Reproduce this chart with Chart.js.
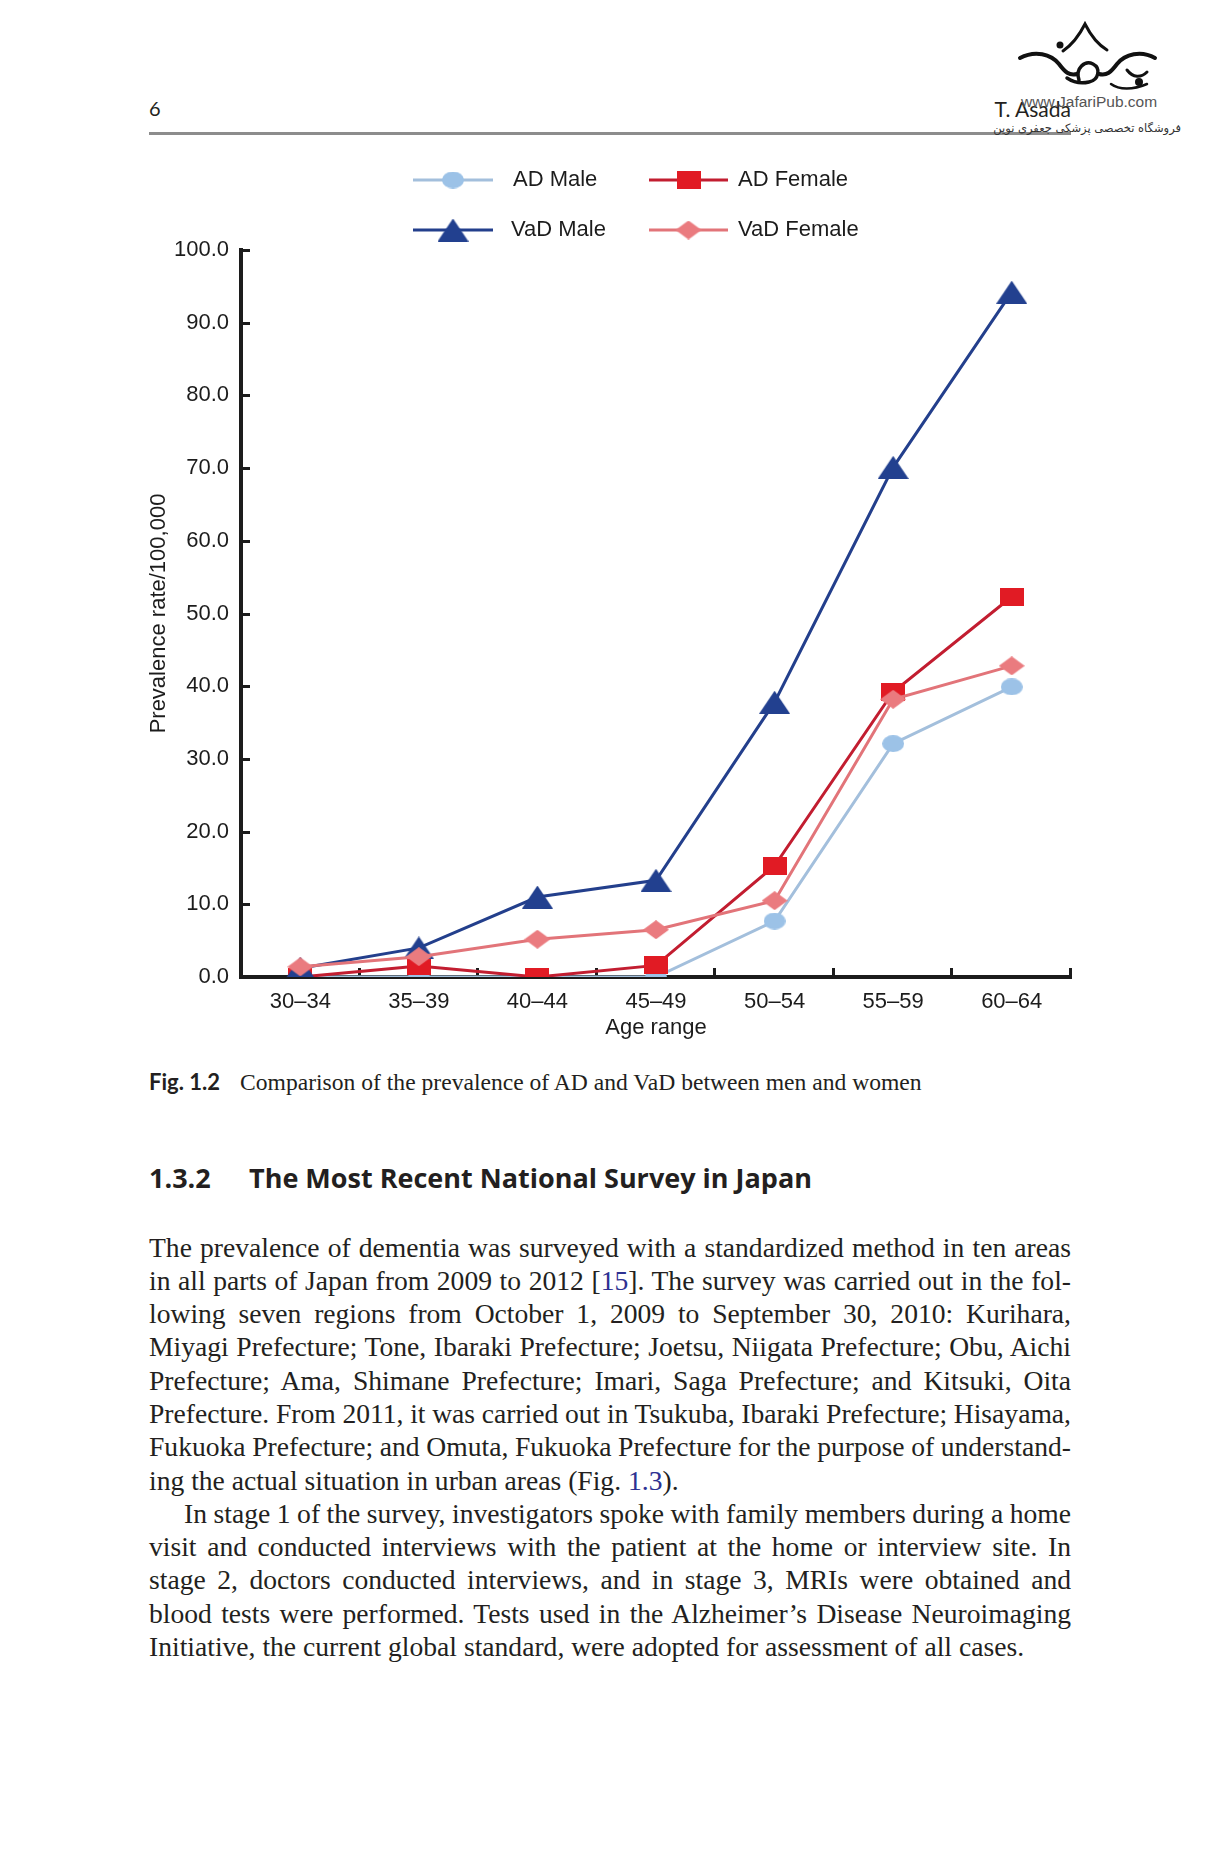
<!DOCTYPE html>
<html>
<head>
<meta charset="utf-8">
<script src="https://cdn.jsdelivr.net/npm/chart.js@4.4.0/dist/chart.umd.min.js"></script>
<style>
  html, body { margin: 0; padding: 0; background: #fff; }
  #page { position: relative; width: 1221px; height: 1851px; overflow: hidden; background: #fff; color: #231f20; }
  .abs { position: absolute; white-space: nowrap; }
  .sans { font-family: Lato, "Liberation Sans", sans-serif; }
  .serif { font-family: "Liberation Serif", "Times New Roman", serif; }
  .head { font-family: "Open Sans", Lato, sans-serif; font-weight: 700; font-size: 27px; line-height: 30px; }
  #rule { position: absolute; left: 149px; top: 132px; width: 922px; height: 3px; background: #8c8c8c; }
  #chartBox { position: absolute; left: 140px; top: 150px; width: 960px; height: 900px; }
  .para { position: absolute; left: 149px; width: 922px; font-size: 27.6px; line-height: 33.3px; }
  .jl { text-align: justify; text-align-last: justify; }
  .ind { text-indent: 35px; }
  .ref { color: #2e3192; }
</style>
</head>
<body>
<div id="page">
  <!-- running head -->
  <div class="abs sans" style="left:149px; top:96px; font-size:20px; line-height:24px;">6</div>
  <div class="abs sans" style="right:150px; top:96px; font-size:21px; line-height:25px;">T. Asada</div>
  <div id="rule"></div>

  <!-- watermark -->
  <svg class="abs" style="left:1015px; top:20px;" width="150" height="75" viewBox="0 0 150 75">
    <g fill="none" stroke="#111" stroke-linecap="round">
      <path d="M48 31 C58 24 64 16 70 4 C76 16 82 24 92 30" stroke-width="3"/>
      <path d="M5 38 C20 30 36 34 44 44 C50 52 54 56 62 54" stroke-width="4"/>
      <path d="M140 38 C126 30 110 34 102 44 C96 52 92 56 84 54" stroke-width="4"/>
      <path d="M64 60 C60 48 70 40 78 44 C86 48 84 60 74 62 C66 64 58 62 52 58" stroke-width="3.5"/>
      <path d="M112 50 C118 58 126 58 132 52" stroke-width="3"/>
      <path d="M96 64 C104 70 118 70 132 64" stroke-width="2.5"/>
    </g>
    <circle cx="45" cy="25" r="3.5" fill="#111"/>
    <circle cx="124" cy="62" r="4" fill="#111"/>
  </svg>
  <div class="abs" style="left:1021px; top:93px; font-family:'Liberation Sans',Arial,sans-serif; font-size:15.5px; line-height:18px; color:#555;">www.JafariPub.com</div>
  <div class="abs" dir="rtl" style="right:40px; top:120px; font-family:'DejaVu Sans',sans-serif; font-size:11.5px; line-height:16px; color:#333;">فروشگاه تخصصی پزشکی جعفری نوین</div>

  <!-- figure -->
  <div id="chartBox"><canvas id="chart" width="960" height="900"></canvas></div>

  <div class="abs sans" style="left:149px; top:1069px; font-size:22px; line-height:26px; font-weight:700; color:#231f20;">Fig. 1.2</div>
  <div class="abs serif" style="left:240px; top:1069px; font-size:23.6px; line-height:27px;">Comparison of the prevalence of AD and VaD between men and women</div>

  <!-- section heading -->
  <div class="abs head" style="left:149px; top:1163px;">1.3.2</div>
  <div class="abs head" style="left:249px; top:1163px;">The Most Recent National Survey in Japan</div>

  <!-- body text -->
  <div class="para serif" style="top:1230.5px;">
    <div class="jl">The prevalence of dementia was surveyed with a standardized method in ten areas</div>
    <div class="jl">in all parts of Japan from 2009 to 2012 [<span class="ref">15</span>]. The survey was carried out in the fol-</div>
    <div class="jl">lowing seven regions from October 1, 2009 to September 30, 2010: Kurihara,</div>
    <div class="jl">Miyagi Prefecture; Tone, Ibaraki Prefecture; Joetsu, Niigata Prefecture; Obu, Aichi</div>
    <div class="jl">Prefecture; Ama, Shimane Prefecture; Imari, Saga Prefecture; and Kitsuki, Oita</div>
    <div class="jl">Prefecture. From 2011, it was carried out in Tsukuba, Ibaraki Prefecture; Hisayama,</div>
    <div class="jl">Fukuoka Prefecture; and Omuta, Fukuoka Prefecture for the purpose of understand-</div>
    <div>ing the actual situation in urban areas (Fig. <span class="ref">1.3</span>).</div>
    <div class="jl ind">In stage 1 of the survey, investigators spoke with family members during a home</div>
    <div class="jl">visit and conducted interviews with the patient at the home or interview site. In</div>
    <div class="jl">stage 2, doctors conducted interviews, and in stage 3, MRIs were obtained and</div>
    <div class="jl">blood tests were performed. Tests used in the Alzheimer’s Disease Neuroimaging</div>
    <div>Initiative, the current global standard, were adopted for assessment of all cases.</div>
  </div>
</div>

<script>
// keep each justified line on one line
document.querySelectorAll('.jl').forEach(el => {
  let ws = 0;
  while (el.getBoundingClientRect().height > 40 && ws > -8) {
    ws -= 0.25;
    el.style.wordSpacing = ws + 'px';
  }
});

const ageGroups = ['30–34', '35–39', '40–44', '45–49', '50–54', '55–59', '60–64'];
const adMale    = [0.0, 0.0, 0.0, 0.0, 7.7, 32.1, 39.9];
const adFemale  = [0.0, 1.5, 0.0, 1.6, 15.3, 39.2, 52.3];
const vadMale   = [1.2, 4.0, 11.0, 13.3, 37.8, 70.1, 94.2];
const vadFemale = [1.4, 2.8, 5.2, 6.5, 10.5, 38.2, 42.8];
const yTicks    = [0, 10, 20, 30, 40, 50, 60, 70, 80, 90, 100];

const FONT = { family: "'Liberation Sans', Arial, sans-serif", size: 22 };
const INK = '#1c1c1c';

// marker sprites (the original markers are a bit flattened)
function marker(shape, w, h, color) {
  const c = document.createElement('canvas');
  c.width = w; c.height = h;
  const g = c.getContext('2d');
  g.fillStyle = color;
  g.beginPath();
  if (shape === 'circle') g.ellipse(w / 2, h / 2, w / 2, h / 2, 0, 0, Math.PI * 2);
  if (shape === 'rect') g.rect(0, 0, w, h);
  if (shape === 'triangle') { g.moveTo(0, h); g.lineTo(w / 2, 0); g.lineTo(w, h); g.closePath(); }
  if (shape === 'diamond') { g.moveTo(0, h / 2); g.lineTo(w / 2, 0); g.lineTo(w, h / 2); g.lineTo(w / 2, h); g.closePath(); }
  g.fill();
  return c;
}

const series = [
  { label: 'VaD Female', data: vadFemale, line: '#e27479', img: marker('diamond', 26, 19, '#ea7b7f'), order: 0, slot: [509, 588, 80, 598] },
  { label: 'VaD Male',   data: vadMale,   line: '#233f8c', img: marker('triangle', 31, 23, '#22408f'), order: 1, slot: [273, 353, 80, 371] },
  { label: 'AD Female',  data: adFemale,  line: '#c21d30', img: marker('rect', 24, 18, '#e11b24'), order: 2, slot: [509, 588, 30, 598] },
  { label: 'AD Male',    data: adMale,    line: '#a3bfdc', img: marker('circle', 22, 17, '#9cc2e7'), order: 3, slot: [273, 353, 30, 373] }
];

// tick marks drawn inward, like the original
const innerTicks = {
  id: 'innerTicks',
  beforeDatasetsDraw(chart) {
    const { ctx, chartArea, scales: { x, y } } = chart;
    ctx.save();
    ctx.strokeStyle = INK;
    ctx.lineWidth = 3;
    ctx.beginPath();
    y.ticks.forEach(t => {
      const py = Math.round(y.getPixelForValue(t.value)) + 0.5;
      ctx.moveTo(chartArea.left, py);
      ctx.lineTo(chartArea.left + 9, py);
    });
    const n = x.ticks.length;
    const step = (x.right - x.left) / n;
    for (let i = 1; i <= n; i++) {
      const px = Math.round(x.left + step * i) - 0.5;
      ctx.moveTo(px, chartArea.bottom);
      ctx.lineTo(px, chartArea.bottom - 9);
    }
    ctx.stroke();
    ctx.restore();
  }
};

// two-column legend: line + marker sample, then label
const gridLegend = {
  id: 'gridLegend',
  afterDraw(chart) {
    const ctx = chart.ctx;
    ctx.save();
    ctx.font = FONT.size + 'px ' + FONT.family;
    ctx.textBaseline = 'middle';
    ctx.fillStyle = INK;
    chart.data.datasets.forEach(ds => {
      const [x1, x2, y, tx] = ds.slot;
      ctx.strokeStyle = ds.borderColor;
      ctx.lineWidth = 3;
      ctx.beginPath();
      ctx.moveTo(x1, y);
      ctx.lineTo(x2, y);
      ctx.stroke();
      const img = ds.pointStyle;
      ctx.drawImage(img, (x1 + x2) / 2 - img.width / 2, y - img.height / 2);
      ctx.fillText(ds.label, tx, y);
    });
    ctx.restore();
  }
};

new Chart(document.getElementById('chart'), {
  type: 'line',
  data: {
    labels: ageGroups,
    datasets: series.map(s => ({
      label: s.label,
      data: s.data,
      borderColor: s.line,
      backgroundColor: s.line,
      borderWidth: 3,
      tension: 0,
      pointStyle: s.img,
      pointRadius: 12,
      order: s.order,
      slot: s.slot
    }))
  },
  options: {
    responsive: false,
    animation: false,
    events: [],
    layout: { padding: { top: 100, right: 29, left: 0, bottom: 0 } },
    plugins: { legend: { display: false }, tooltip: { enabled: false } },
    scales: {
      x: {
        offset: true,
        grid: { drawOnChartArea: false, drawTicks: false, offset: true },
        border: { display: true, color: INK, width: 4 },
        ticks: { padding: 12, font: FONT, color: INK, maxRotation: 0, autoSkip: false },
        title: { display: true, text: 'Age range', font: FONT, color: INK, padding: { top: 0, bottom: 9 } },
        afterFit: s => { s.height = 73; }
      },
      y: {
        min: 0,
        max: 100,
        afterBuildTicks: s => { s.ticks = yTicks.map(v => ({ value: v })); },
        grid: { drawOnChartArea: false, drawTicks: false },
        border: { display: true, color: INK, width: 4 },
        ticks: { padding: 12, font: FONT, color: INK, callback: v => Number(v).toFixed(1) },
        title: { display: true, text: 'Prevalence rate/100,000', font: FONT, color: INK, padding: { top: 6, bottom: 0 } },
        afterFit: s => { s.width = 101; }
      }
    }
  },
  plugins: [innerTicks, gridLegend]
});
</script>
</body>
</html>
